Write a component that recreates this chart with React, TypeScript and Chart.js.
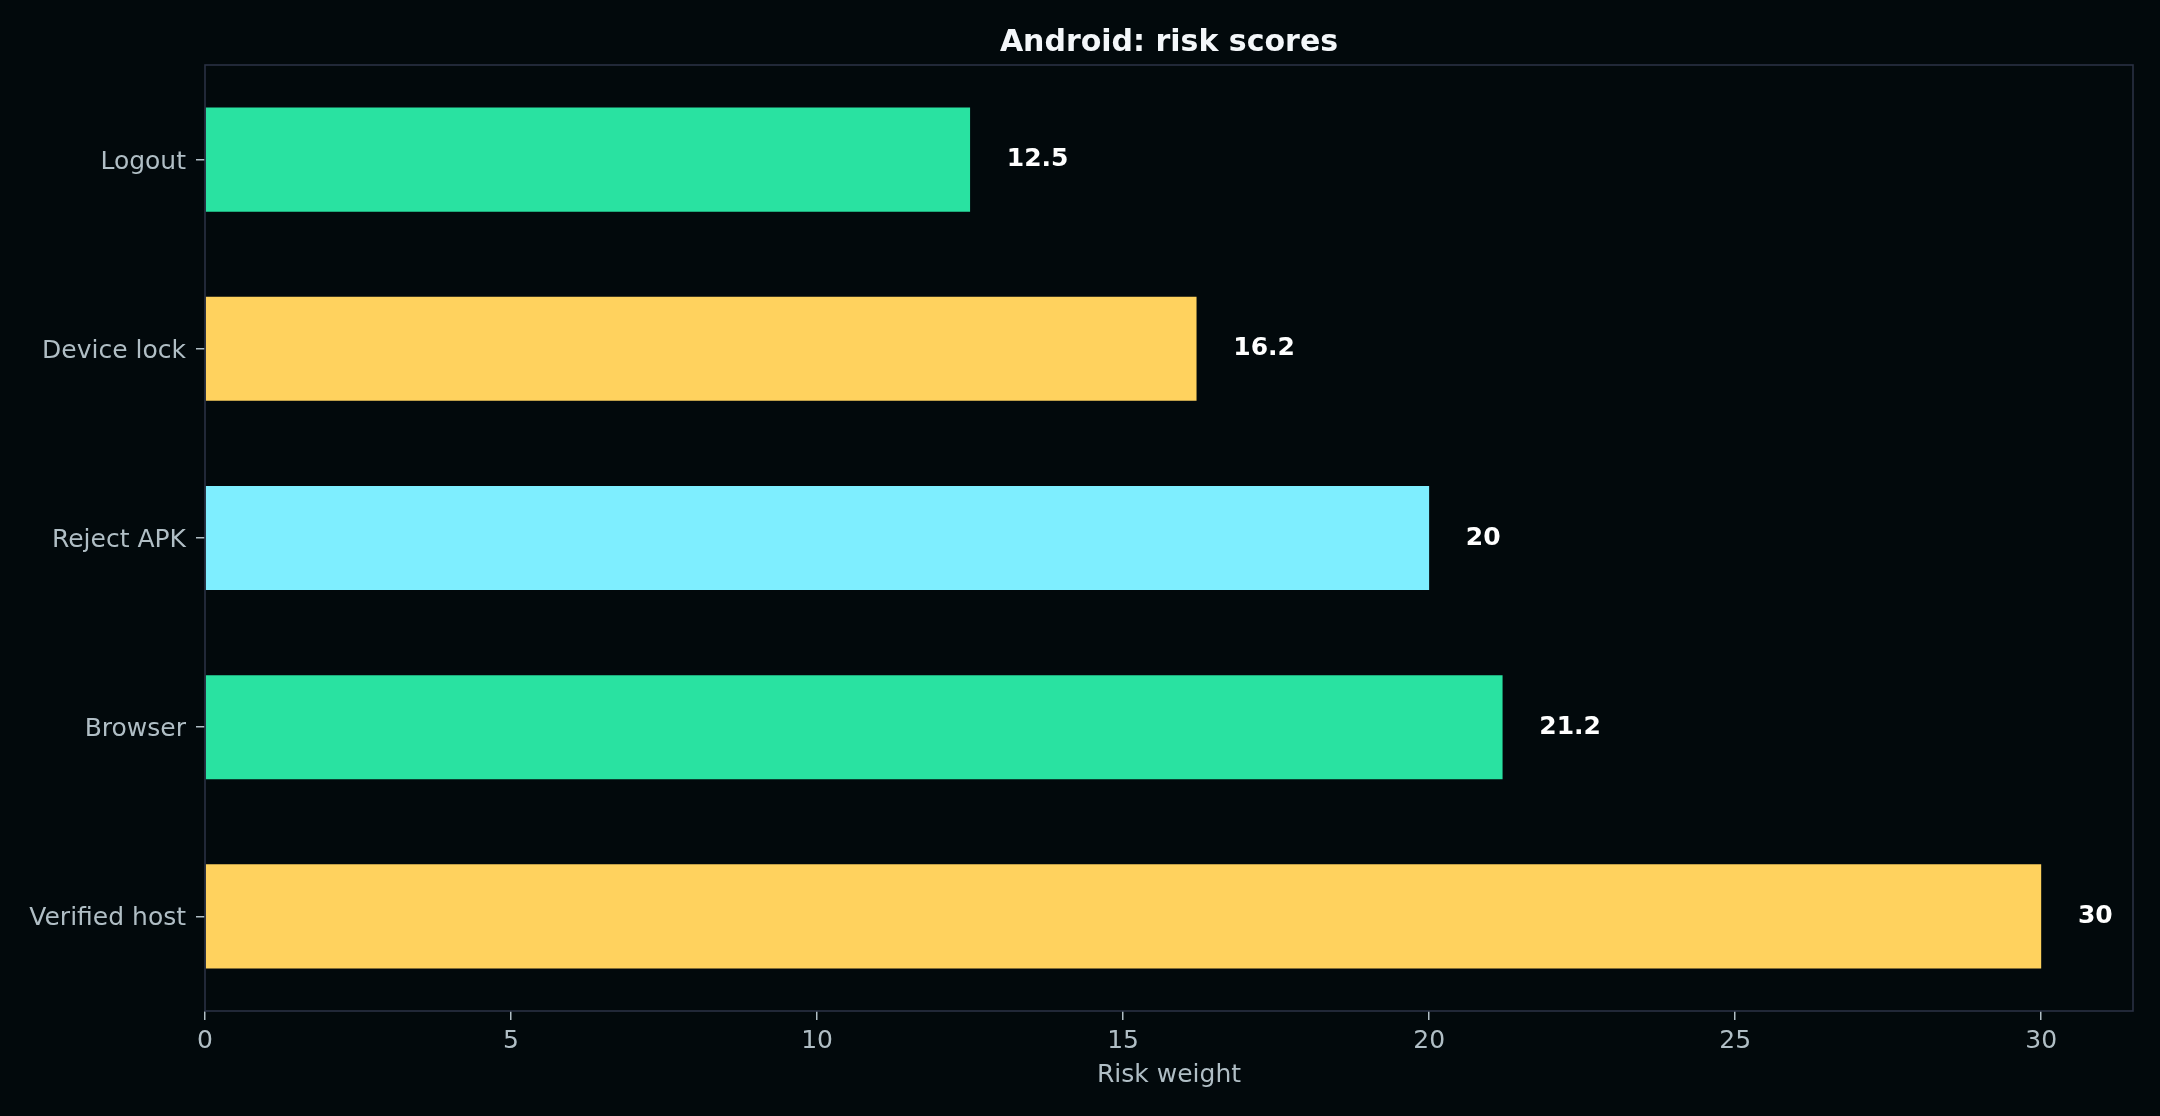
import { Chart, registerables } from "chart.js"
import { useEffect, useRef } from "react"

Chart.register(...registerables)

const FONT = '"DejaVu Sans", "Liberation Sans", sans-serif'
const BG = "#02090c"
const TEXT_MUTED = "#b0bec5"
const FRAME = "#2a3144"

const CATEGORIES = ["Logout", "Device lock", "Reject APK", "Browser", "Verified host"]
const SCORES = [12.5, 16.2, 20, 21.2, 30]
const BAR_COLORS = ["#29e2a1", "#ffd25e", "#7eeeff", "#29e2a1", "#ffd25e"]
const X_TICKS = [0, 5, 10, 15, 20, 25, 30]
const TITLE = "Android: risk scores"
const X_TITLE = "Risk weight"

// frame, title, axis title and value labels drawn by hand (matplotlib look)
const decorations = {
	id: "decorations",
	beforeDraw(chart: Chart) {
		const { ctx, width, height } = chart
		ctx.save()
		ctx.fillStyle = BG
		ctx.fillRect(0, 0, width, height)
		ctx.restore()
	},
	afterDatasetsDraw(chart: Chart) {
		const { ctx, chartArea } = chart
		const xScale = chart.scales.x
		const meta = chart.getDatasetMeta(0)
		ctx.save()

		ctx.strokeStyle = FRAME
		ctx.lineWidth = 1.6
		ctx.strokeRect(chartArea.left, chartArea.top, chartArea.right - chartArea.left, chartArea.bottom - chartArea.top)

		ctx.fillStyle = "#ffffff"
		ctx.font = `bold 25px ${FONT}`
		ctx.textAlign = "left"
		ctx.textBaseline = "middle"
		SCORES.forEach((v, i) => {
			const bar = meta.data[i]
			ctx.fillText(String(v), xScale.getPixelForValue(v + 0.6), bar.y)
		})

		const cx = (chartArea.left + chartArea.right) / 2
		ctx.textAlign = "center"
		ctx.textBaseline = "alphabetic"
		ctx.fillStyle = "#f4f7fa"
		ctx.font = `bold 30px ${FONT}`
		ctx.fillText(TITLE, cx, 51)

		ctx.fillStyle = TEXT_MUTED
		ctx.font = `25px ${FONT}`
		ctx.fillText(X_TITLE, cx, 1082)
		ctx.restore()
	},
}

export default function App() {
	const canvasRef = useRef<HTMLCanvasElement>(null)

	useEffect(() => {
		if (!canvasRef.current) return
		const chart = new Chart(canvasRef.current, {
			type: "bar",
			data: {
				labels: CATEGORIES,
				datasets: [
					{
						data: SCORES,
						backgroundColor: BAR_COLORS,
						borderWidth: 0,
						barPercentage: 0.55,
						categoryPercentage: 1,
					},
				],
			},
			plugins: [decorations],
			options: {
				indexAxis: "y",
				animation: false,
				responsive: true,
				maintainAspectRatio: false,
				layout: { padding: { top: 65, right: 27, left: 0, bottom: 0 } },
				plugins: { legend: { display: false }, tooltip: { enabled: false } },
				scales: {
					x: {
						type: "linear",
						min: 0,
						max: 31.5,
						afterFit: (scale) => {
							scale.height = 105
						},
						afterBuildTicks: (scale) => {
							scale.ticks = X_TICKS.map((v) => ({ value: v }))
						},
						ticks: {
							color: TEXT_MUTED,
							font: { family: FONT, size: 25 },
							padding: 6,
							maxRotation: 0,
						},
						grid: {
							drawOnChartArea: false,
							drawTicks: true,
							tickLength: 9,
							color: TEXT_MUTED,
							lineWidth: 1.5,
						},
						border: { display: false },
					},
					y: {
						afterFit: (scale) => {
							scale.width = 205
						},
						ticks: {
							color: TEXT_MUTED,
							font: { family: FONT, size: 25 },
							padding: 10,
							labelOffset: 2.5,
						},
						grid: {
							offset: false,
							drawOnChartArea: false,
							drawTicks: true,
							tickLength: 9,
							color: TEXT_MUTED,
							lineWidth: 1.5,
						},
						border: { display: false },
					},
				},
			},
		})
		return () => {
			chart.destroy()
		}
	}, [])

	return (
		<div style={{ position: "fixed", inset: 0, background: BG }}>
			<canvas ref={canvasRef} aria-label="Android risk scores bar chart" />
		</div>
	)
}
